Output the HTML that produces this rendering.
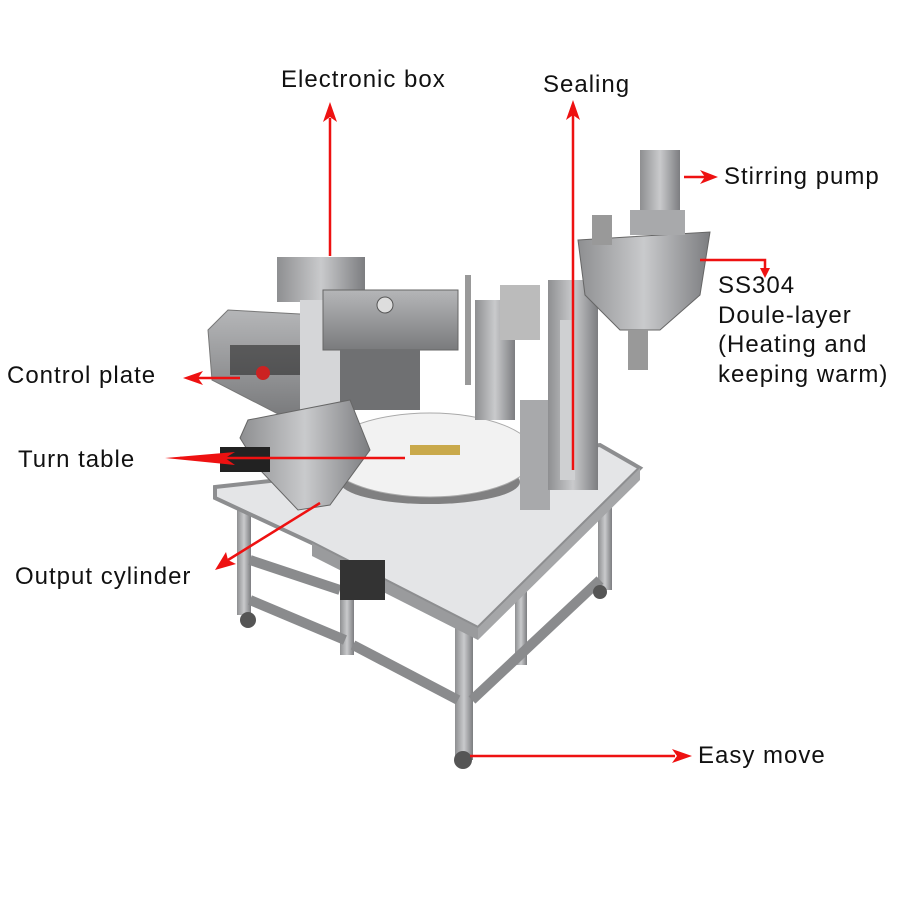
<!DOCTYPE html>
<html><head><meta charset="utf-8"><style>
body{margin:0;background:#fff;}
svg{display:block}
text{font-family:"Liberation Sans",sans-serif;font-size:24px;fill:#111;letter-spacing:1px}
</style></head><body>
<svg width="900" height="900" viewBox="0 0 900 900" xmlns="http://www.w3.org/2000/svg">
<defs>
<linearGradient id="steel" x1="0" x2="1"><stop offset="0" stop-color="#8e8f91"/><stop offset=".5" stop-color="#c9cacc"/><stop offset="1" stop-color="#7c7d80"/></linearGradient>
<linearGradient id="steel2" x1="0" y1="0" x2="0" y2="1"><stop offset="0" stop-color="#b5b6b8"/><stop offset="1" stop-color="#7a7b7d"/></linearGradient>
</defs>
<g fill="url(#steel)">
<rect x="237" y="485" width="14" height="130"/>
<rect x="340" y="545" width="14" height="110"/>
<rect x="455" y="610" width="18" height="150"/>
<rect x="598" y="470" width="14" height="120"/>
<rect x="515" y="555" width="12" height="110"/>
</g>
<g stroke="#8a8b8d" stroke-width="10" fill="none">
<line x1="250" y1="600" x2="345" y2="640"/>
<line x1="353" y1="645" x2="458" y2="700"/>
<line x1="472" y1="700" x2="600" y2="580"/>
<line x1="250" y1="560" x2="340" y2="590"/>
</g>
<polygon points="215,487 600,445 640,468 478,628 312,543 215,498" fill="#e4e5e7" stroke="#8d8e90" stroke-width="4"/>
<polygon points="312,543 478,628 478,640 312,556" fill="#9a9b9d"/>
<polygon points="478,628 640,468 640,480 478,640" fill="#a5a6a8"/>
<circle cx="248" cy="620" r="8" fill="#555"/><circle cx="463" cy="760" r="9" fill="#555"/><circle cx="600" cy="592" r="7" fill="#555"/>
<rect x="340" y="560" width="45" height="40" fill="#333"/>
<ellipse cx="430" cy="482" rx="90" ry="22" fill="#555" opacity=".7"/>
<ellipse cx="430" cy="455" rx="105" ry="42" fill="#f2f2f2" stroke="#aaa"/>
<rect x="410" y="445" width="50" height="10" fill="#c9a94b"/>
<polygon points="208,330 228,310 318,315 318,410 280,415 212,380" fill="url(#steel2)" stroke="#777"/>
<rect x="230" y="345" width="80" height="30" fill="#2a2a2a" opacity=".6"/>
<circle cx="263" cy="373" r="7" fill="#c22"/>
<rect x="277" y="257" width="88" height="45" fill="url(#steel)"/>
<rect x="300" y="300" width="55" height="130" fill="#d5d6d8"/>
<rect x="323" y="290" width="135" height="60" fill="url(#steel2)" stroke="#666"/>
<circle cx="385" cy="305" r="8" fill="#ddd" stroke="#555"/>
<rect x="340" y="350" width="80" height="60" fill="#6f7072"/>
<polygon points="240,438 248,420 350,400 370,450 330,505 298,510 260,470" fill="url(#steel)" stroke="#666"/>
<rect x="220" y="447" width="50" height="25" fill="#222"/>
<rect x="465" y="275" width="6" height="110" fill="#999"/>
<rect x="475" y="300" width="40" height="120" fill="url(#steel)"/>
<rect x="500" y="285" width="40" height="55" fill="#bbb"/>
<rect x="520" y="400" width="30" height="110" fill="#a8a9ab"/>
<rect x="548" y="280" width="50" height="210" fill="url(#steel)"/>
<rect x="560" y="320" width="15" height="160" fill="#cfd0d2"/>
<polygon points="578,240 710,232 700,295 660,330 620,330 585,295" fill="url(#steel)" stroke="#666"/>
<rect x="628" y="330" width="20" height="40" fill="#999"/>
<rect x="640" y="150" width="40" height="70" fill="url(#steel)"/>
<rect x="630" y="210" width="55" height="25" fill="#a8a9ab"/>
<rect x="592" y="215" width="20" height="30" fill="#999"/>
<g stroke="#e11" stroke-width="2.5" fill="none">
<line x1="330" y1="256" x2="330" y2="118"/>
<line x1="573" y1="470" x2="573" y2="115"/>
<line x1="684" y1="177" x2="705" y2="177"/>
<polyline points="700,260 765,260 765,272"/>
<line x1="240" y1="378" x2="195" y2="378"/>
<line x1="405" y1="458" x2="180" y2="458"/>
<line x1="320" y1="503" x2="228" y2="560"/>
<line x1="470" y1="756" x2="675" y2="756"/>
</g>
<g fill="#e11">
<polygon points="330,102 323,122 330,117 337,122"/>
<polygon points="573,100 566,120 573,115 580,120"/>
<polygon points="718,177 700,170 705,177 700,184"/>
<polygon points="765,278 760,268 770,268"/>
<polygon points="183,378 203,371 198,378 203,385"/>
<polygon points="165,458 235,452 225,458 235,465"/>
<polygon points="215,570 226,552 228,560 236,564"/>
<polygon points="692,756 672,749 677,756 672,763"/>
</g>
<text x="281" y="87">Electronic box</text>
<text x="543" y="92">Sealing</text>
<text x="724" y="184">Stirring pump</text>
<text x="718" y="293">SS304</text>
<text x="718" y="323">Doule-layer</text>
<text x="718" y="352">(Heating and</text>
<text x="718" y="382">keeping warm)</text>
<text x="7" y="383">Control plate</text>
<text x="18" y="467">Turn table</text>
<text x="15" y="584">Output cylinder</text>
<text x="698" y="763">Easy move</text>
</svg>
</body></html>
